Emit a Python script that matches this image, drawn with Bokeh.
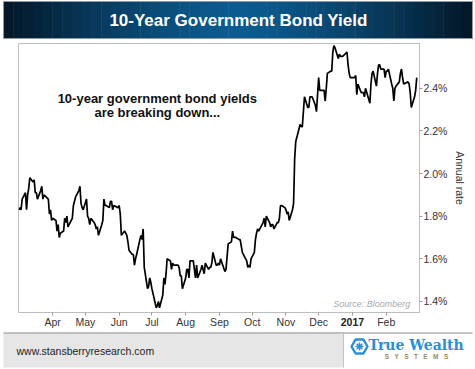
import pandas as pd
from bokeh.plotting import figure
from bokeh.layouts import column
from bokeh.models import Range1d, FixedTicker, PrintfTickFormatter, Label, ColumnDataSource
from bokeh.core.properties import value
from bokeh.embed import file_html
from bokeh.resources import INLINE

# ---------------- data ----------------
dates = [
 "2016-03-01","2016-03-02","2016-03-03","2016-03-04","2016-03-07","2016-03-08","2016-03-09","2016-03-10","2016-03-11",
 "2016-03-14","2016-03-15","2016-03-16","2016-03-17","2016-03-18","2016-03-21","2016-03-22","2016-03-23","2016-03-24",
 "2016-03-28","2016-03-29","2016-03-30","2016-03-31","2016-04-01","2016-04-04","2016-04-05","2016-04-06","2016-04-07",
 "2016-04-08","2016-04-11","2016-04-12","2016-04-13","2016-04-14","2016-04-15","2016-04-18","2016-04-19","2016-04-20",
 "2016-04-21","2016-04-22","2016-04-25","2016-04-26","2016-04-27","2016-04-28","2016-04-29","2016-05-02","2016-05-03",
 "2016-05-04","2016-05-05","2016-05-06","2016-05-09","2016-05-10","2016-05-11","2016-05-12","2016-05-13","2016-05-16",
 "2016-05-17","2016-05-18","2016-05-19","2016-05-20","2016-05-23","2016-05-24","2016-05-25","2016-05-26","2016-05-27",
 "2016-05-31","2016-06-01","2016-06-02","2016-06-03","2016-06-06","2016-06-07","2016-06-08","2016-06-09","2016-06-10",
 "2016-06-13","2016-06-14","2016-06-15","2016-06-16","2016-06-17","2016-06-20","2016-06-21","2016-06-22","2016-06-23",
 "2016-06-24","2016-06-27","2016-06-28","2016-06-29","2016-06-30","2016-07-01","2016-07-05","2016-07-06","2016-07-07",
 "2016-07-08","2016-07-11","2016-07-12","2016-07-13","2016-07-14","2016-07-15","2016-07-18","2016-07-19","2016-07-20",
 "2016-07-21","2016-07-22","2016-07-25","2016-07-26","2016-07-27","2016-07-28","2016-07-29","2016-08-01","2016-08-02",
 "2016-08-03","2016-08-04","2016-08-05","2016-08-08","2016-08-09","2016-08-10","2016-08-11","2016-08-12","2016-08-15",
 "2016-08-16","2016-08-17","2016-08-18","2016-08-19","2016-08-22","2016-08-23","2016-08-24","2016-08-25","2016-08-26",
 "2016-08-29","2016-08-30","2016-08-31","2016-09-01","2016-09-02","2016-09-06","2016-09-07","2016-09-08","2016-09-09",
 "2016-09-12","2016-09-13","2016-09-14","2016-09-15","2016-09-16","2016-09-19","2016-09-20","2016-09-21","2016-09-22",
 "2016-09-23","2016-09-26","2016-09-27","2016-09-28","2016-09-29","2016-09-30","2016-10-03","2016-10-04","2016-10-05",
 "2016-10-06","2016-10-07","2016-10-11","2016-10-12","2016-10-13","2016-10-14","2016-10-17","2016-10-18","2016-10-19",
 "2016-10-20","2016-10-21","2016-10-24","2016-10-25","2016-10-26","2016-10-27","2016-10-28","2016-10-31","2016-11-01",
 "2016-11-02","2016-11-03","2016-11-04","2016-11-07","2016-11-08","2016-11-09","2016-11-10","2016-11-14","2016-11-15",
 "2016-11-16","2016-11-17","2016-11-18","2016-11-21","2016-11-22","2016-11-23","2016-11-25","2016-11-28","2016-11-29",
 "2016-11-30","2016-12-01","2016-12-02","2016-12-05","2016-12-06","2016-12-07","2016-12-08","2016-12-09","2016-12-12",
 "2016-12-13","2016-12-14","2016-12-15","2016-12-16","2016-12-19","2016-12-20","2016-12-21","2016-12-22","2016-12-23",
 "2016-12-27","2016-12-28","2016-12-29","2016-12-30","2017-01-03","2017-01-04","2017-01-05","2017-01-06","2017-01-09",
 "2017-01-10","2017-01-11","2017-01-12","2017-01-13","2017-01-17","2017-01-18","2017-01-19","2017-01-20","2017-01-23",
 "2017-01-24","2017-01-25","2017-01-26","2017-01-27","2017-01-30","2017-01-31","2017-02-01","2017-02-02","2017-02-03",
 "2017-02-06","2017-02-07","2017-02-08","2017-02-09","2017-02-10","2017-02-13","2017-02-14","2017-02-15","2017-02-16",
 "2017-02-17","2017-02-21","2017-02-22","2017-02-23","2017-02-24","2017-02-27","2017-02-28","2017-03-01",
]
yields = [
 1.83,1.84,1.83,1.88,1.91,1.83,1.90,1.93,1.98,
 1.96,1.97,1.91,1.91,1.88,1.92,1.94,1.88,1.90,
 1.88,1.81,1.83,1.78,1.79,1.78,1.73,1.76,1.70,
 1.72,1.73,1.79,1.77,1.80,1.75,1.78,1.79,1.85,
 1.87,1.89,1.92,1.94,1.86,1.84,1.83,1.88,1.80,
 1.79,1.76,1.79,1.77,1.76,1.74,1.75,1.71,1.76,
 1.78,1.88,1.85,1.85,1.84,1.87,1.87,1.83,1.85,
 1.84,1.85,1.81,1.71,1.73,1.72,1.71,1.68,1.64,
 1.62,1.62,1.57,1.60,1.62,1.69,1.71,1.69,1.74,
 1.56,1.46,1.47,1.51,1.49,1.46,1.37,1.38,1.40,
 1.37,1.43,1.51,1.48,1.53,1.60,1.59,1.55,1.58,
 1.57,1.57,1.57,1.56,1.52,1.52,1.46,1.51,1.55,
 1.55,1.51,1.59,1.59,1.55,1.51,1.57,1.51,1.55,
 1.57,1.55,1.53,1.58,1.55,1.56,1.56,1.58,1.63,
 1.57,1.57,1.58,1.57,1.60,1.54,1.55,1.61,1.67,
 1.68,1.73,1.70,1.70,1.70,1.69,1.69,1.66,1.63,
 1.62,1.59,1.56,1.57,1.56,1.60,1.63,1.69,1.72,
 1.74,1.73,1.77,1.79,1.75,1.80,1.77,1.75,1.76,
 1.76,1.74,1.77,1.77,1.79,1.85,1.85,1.84,1.83,
 1.81,1.82,1.78,1.83,1.86,2.07,2.15,2.23,2.22,
 2.22,2.29,2.36,2.31,2.31,2.36,2.36,2.32,2.29,
 2.37,2.45,2.39,2.39,2.39,2.34,2.40,2.47,2.48,
 2.48,2.57,2.60,2.59,2.54,2.56,2.55,2.55,2.55,
 2.57,2.51,2.47,2.45,2.45,2.46,2.37,2.42,2.38,
 2.38,2.38,2.36,2.40,2.33,2.42,2.47,2.48,2.41,
 2.47,2.51,2.51,2.49,2.49,2.45,2.48,2.48,2.49,
 2.42,2.40,2.34,2.40,2.41,2.43,2.47,2.49,2.45,
 2.42,2.43,2.42,2.38,2.31,2.36,2.39,2.45,
]
month_ticks = ["2016-04-01","2016-05-01","2016-06-01","2016-07-01","2016-08-01","2016-09-01",
               "2016-10-01","2016-11-01","2016-12-01","2017-01-01","2017-02-01"]
month_labels = ["Apr","May","Jun","Jul","Aug","Sep","Oct","Nov","Dec","2017","Feb"]
bold_labels = ["2017"]
y_ticks = [1.4, 1.6, 1.8, 2.0, 2.2, 2.4]

TITLE = "10-Year Government Bond Yield"
NOTE1 = "10-year government bond yields"
NOTE2 = "are breaking down..."
SOURCE = "Source: Bloomberg"
FOOTER = "www.stansberryresearch.com"

FONT = "Liberation Sans"
W = 475
BL, BR = 18, 56   # chart side borders

def ms(s):
    return pd.Timestamp(s).value // 10**6

def bare(fig):
    fig.grid.visible = False
    fig.outline_line_color = None
    return fig

# ---------------- banner ----------------
BH = 40
ban = bare(figure(width=W, height=BH, x_range=Range1d(0, W), y_range=Range1d(0, BH),
                  output_backend="svg", toolbar_location=None, frame_align=False,
                  x_axis_location=None, y_axis_location=None, min_border=0))
n = 48
x_a, x_b = 3, 472
lefts = [x_a + (x_b - x_a) * i / n for i in range(n)]
rights = [x_a + (x_b - x_a) * (i + 1) / n + 0.5 for i in range(n)]
cols = []
for i in range(n):
    t = abs((i + 0.5) / n - 0.5) * 2
    c0 = (12, 92, 145); c1 = (4, 22, 38)
    f = t ** 1.4
    cols.append("#%02x%02x%02x" % tuple(int(c0[k] + (c1[k] - c0[k]) * f) for k in range(3)))
ban.quad(left=lefts, right=rights, bottom=2, top=39, color=cols, line_color=None)
ban.quad(left=[x_a], right=[x_b], bottom=[2], top=[39], fill_color=None, line_color="#8f9aa3", line_width=1)
ban.text(x=[238], y=[20.5], text=[TITLE], text_align="center", text_baseline="middle",
         text_color="white", text_font=value(FONT), text_font_style="bold", text_font_size="17px")

# ---------------- chart ----------------
src = ColumnDataSource(dict(date=pd.to_datetime(dates), y=yields))
x0 = pd.Timestamp("2016-03-01") - pd.Timedelta(hours=9)
x1 = x0 + pd.Timedelta(days=367.9)
xr = Range1d(x0, x1)
p = figure(width=W, height=277, x_axis_type="datetime", y_axis_location="right",
           x_range=xr, y_range=Range1d(1.348, 2.61),
           output_backend="svg", toolbar_location=None, frame_align=False,
           min_border_left=BL, min_border_right=BR, min_border_top=3, min_border_bottom=5)
p.grid.visible = False
p.outline_line_color = "#bdbdbd"
p.line("date", "y", source=src, line_color="black", line_width=1.7)

xa = p.xaxis[0]
xa.ticker = FixedTicker(ticks=[ms(d) for d in month_ticks])
xa.minor_tick_line_color = None
xa.major_tick_in = 0
xa.major_tick_out = 3
xa.major_label_standoff = 0
xa.major_label_text_font_size = "1px"
xa.major_label_text_color = None
xa.major_label_text_alpha = 0
xa.axis_line_color = "#bdbdbd"
xa.major_tick_line_color = "#999999"

ya = p.yaxis[0]
ya.ticker = FixedTicker(ticks=y_ticks)
ya.formatter = PrintfTickFormatter(format="%.1f%%")
ya.minor_tick_line_color = None
ya.major_tick_in = 0
ya.major_tick_out = 3
ya.major_label_standoff = 1
ya.axis_line_color = "#bdbdbd"
ya.major_tick_line_color = "#999999"
ya.major_label_text_font = FONT
ya.major_label_text_font_size = "10.5px"
ya.major_label_text_color = "#333333"
ya.axis_label = "Annual rate"
ya.axis_label_text_font = FONT
ya.axis_label_text_font_size = "10.5px"
ya.axis_label_text_font_style = "normal"
ya.axis_label_text_color = "#333333"
ya.axis_label_standoff = 4

p.add_layout(Label(x=ms("2016-07-06"), y=2.353, text=NOTE1, text_align="center", text_baseline="middle",
                   text_font=FONT, text_font_style="bold", text_font_size="13px", text_color="#111111"))
p.add_layout(Label(x=ms("2016-07-06"), y=2.287, text=NOTE2, text_align="center", text_baseline="middle",
                   text_font=FONT, text_font_style="bold", text_font_size="13px", text_color="#111111"))
p.add_layout(Label(x=ms("2017-02-23"), y=1.39, text=SOURCE, text_align="right", text_baseline="middle",
                   text_font=FONT, text_font_style="italic", text_font_size="9px", text_color="#aaaaaa"))

# ---------------- month labels (shares the chart's x scale) ----------------
LH = 13
lab = bare(figure(width=W, height=LH, x_range=xr, y_range=Range1d(0, LH),
                  output_backend="svg", toolbar_location=None, frame_align=False,
                  x_axis_location=None, y_axis_location=None,
                  min_border_left=BL, min_border_right=BR, min_border_top=0, min_border_bottom=0))
norm = [(pd.Timestamp(d), l) for d, l in zip(month_ticks, month_labels) if l not in bold_labels]
bold = [(pd.Timestamp(d), l) for d, l in zip(month_ticks, month_labels) if l in bold_labels]
lab.text(x=[d for d, _ in norm], y=[8.5] * len(norm), text=[l for _, l in norm],
         text_align="center", text_baseline="middle", text_font=value(FONT),
         text_font_size="10.5px", text_color="#333333")
lab.text(x=[d for d, _ in bold], y=[8.5] * len(bold), text=[l for _, l in bold],
         text_align="center", text_baseline="middle", text_font=value(FONT), text_font_style="bold",
         text_font_size="10.5px", text_color="#222222")

# ---------------- footer ----------------
FH = 39
ft = bare(figure(width=W, height=FH, x_range=Range1d(0, W), y_range=Range1d(0, FH),
                 output_backend="svg", toolbar_location=None, frame_align=False,
                 x_axis_location=None, y_axis_location=None, min_border=0))
ft.quad(left=[3], right=[343], bottom=[2], top=[37], color="#e6e6e6", line_color=None)
ft.segment(x0=[3], y0=[36.5], x1=[472], y1=[36.5], line_color="#b0b0b0", line_width=1.5)
ft.segment(x0=[343], y0=[2], x1=[343], y1=[36], line_color="#c4c4c4", line_width=1)
ft.text(x=[16], y=[19], text=[FOOTER], text_align="left", text_baseline="middle",
        text_font=value(FONT), text_font_size="10.5px", text_color="#222222")
ft.scatter(x=[359], y=[23], marker="hex", size=16, fill_color="white", line_color="#2d8fd5", line_width=2.4)
ft.scatter(x=[359], y=[23], marker="asterisk", size=8, line_color="#2d8fd5", line_width=1.5)
ft.text(x=[368], y=[24.5], text=["True Wealth"], text_align="left", text_baseline="middle",
        text_font=value("DejaVu Serif"), text_font_style="bold", text_font_size="14px", text_color="#2b8ed3")
sp = "\u00a0\u00a0\u00a0"
ft.text(x=[416], y=[13.5], text=[sp.join("SYSTEMS")], text_align="center", text_baseline="middle",
        text_font=value(FONT), text_font_style="bold", text_font_size="6.5px", text_color="#a08a55")

layout = column(ban, p, lab, ft, spacing=0)
open("out.html", "w").write(file_html(layout, INLINE))
